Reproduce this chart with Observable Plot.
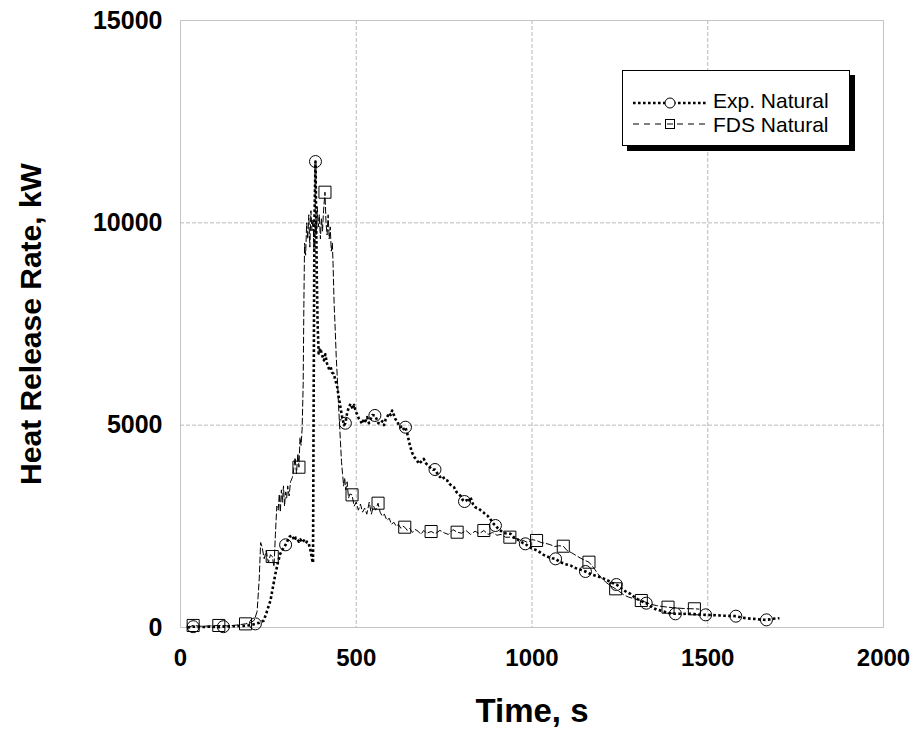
<!DOCTYPE html>
<html>
<head>
<meta charset="utf-8">
<script src="https://cdn.jsdelivr.net/npm/d3@7"></script>
<script src="https://cdn.jsdelivr.net/npm/@observablehq/plot@0.6"></script>
<style>
  html, body { margin: 0; padding: 0; background: #fff; }
  #wrap { position: relative; width: 917px; height: 734px; font-family: "Liberation Sans", Arial, sans-serif; }
  #legend { position: absolute; left: 622px; top: 70px; width: 228px; height: 76px; box-sizing: border-box;
            border: 1px solid #000; background: #fff; box-shadow: 5px 5px 0 #000; }
</style>
</head>
<body>
<div id="wrap"></div>
<script>
// ---- Data ----
const xTicks = [0, 500, 1000, 1500, 2000];
const yTicks = [0, 5000, 10000, 15000];
const seriesNames = ["Exp. Natural", "FDS Natural"];

// Exp. Natural: [time s, HRR kW]
const expNatural = [
[20,0],[36,20],[60,10],[85,20],[110,10],[122,20],[150,30],[180,40],[200,60],[213,90],[225,120],[237,173],[246,400],[256,667],[263,1000],[270,1326],[277,1600],[284,1828],[292,1950],[299,2043],[305,2150],[311,2250],[318,2273],[324,2150],[328,2220],[332,2190],[337,2120],[341,2180],[346,2100],[351,2150],[356,2080],[360,2120],[365,2070],[370,1900],[375,1655],[377,1600],[379,6000],[381,10000],[384,11515],[386,10000],[388,8500],[390,7500],[393,6770],[398,6900],[403,6720],[408,6600],[412,6750],[417,6515],[422,6400],[427,6450],[431,6300],[436,6270],[441,6100],[446,5938],[450,5700],[455,5443],[460,5200],[465,5000],[469,5048],[474,5300],[479,5450],[484,5527],[490,5400],[494,5500],[498,5362],[503,5250],[508,5150],[512,5100],[517,5033],[522,5150],[526,5100],[531,5200],[536,5050],[541,5150],[546,5250],[553,5240],[558,5150],[563,5050],[569,5033],[574,5100],[579,5000],[584,5150],[588,5197],[593,5300],[598,5250],[602,5362],[607,5250],[611,5150],[616,5115],[621,5000],[626,4950],[631,4980],[635,4900],[640,4950],[645,4800],[650,4600],[654,4455],[660,4300],[666,4200],[672,4150],[678,4045],[685,4100],[692,4168],[699,4050],[705,4000],[711,3950],[718,3900],[724,3904],[731,3800],[738,3720],[745,3750],[752,3650],[759,3632],[765,3550],[772,3500],[778,3467],[785,3350],[791,3300],[797,3250],[803,3150],[808,3113],[815,3150],[820,3100],[825,3220],[832,3050],[838,2980],[843,2950],[849,2933],[855,2890],[861,2850],[867,2800],[873,2767],[880,2700],[887,2600],[892,2550],[896,2520],[903,2450],[910,2400],[917,2350],[924,2330],[932,2320],[939,2315],[946,2250],[953,2200],[960,2170],[967,2130],[974,2090],[981,2068],[990,2000],[998,1960],[1007,1930],[1015,1903],[1024,1850],[1032,1800],[1041,1760],[1050,1730],[1058,1710],[1067,1697],[1076,1640],[1085,1600],[1093,1570],[1102,1550],[1110,1532],[1120,1480],[1130,1450],[1140,1420],[1152,1384],[1162,1340],[1173,1300],[1184,1270],[1195,1243],[1206,1200],[1218,1150],[1229,1100],[1240,1062],[1250,1000],[1260,930],[1270,870],[1280,832],[1290,760],[1300,700],[1312,650],[1325,601],[1335,540],[1345,480],[1355,440],[1366,420],[1377,390],[1388,360],[1398,345],[1408,338],[1420,340],[1430,335],[1440,340],[1451,338],[1462,330],[1473,320],[1484,315],[1494,313],[1505,310],[1515,305],[1525,300],[1536,297],[1547,292],[1558,288],[1569,284],[1580,280],[1590,260],[1600,240],[1610,230],[1620,220],[1631,214],[1641,205],[1650,195],[1660,190],[1667,189],[1676,200],[1686,215],[1695,225],[1704,230]
];
const expMarkerTimes = [36,122,213,299,384,469,553,640,724,808,896,981,1067,1152,1240,1325,1408,1494,1580,1667];

// FDS Natural: [time s, HRR kW]
const fdsNatural = [
[20,0],[36,50],[60,30],[85,40],[109,50],[135,40],[160,60],[185,90],[200,120],[210,180],[218,400],[224,1200],[228,2100],[232,2000],[238,1700],[244,1900],[250,1600],[256,1800],[261,1754],[266,1500],[270,2300],[274,3000],[278,2900],[281,3300],[284,2850],[287,3400],[290,3100],[293,3500],[296,3000],[299,3350],[302,3200],[305,3500],[309,3250],[313,3600],[318,3700],[322,3900],[326,4200],[330,3800],[334,4300],[337,3961],[340,4700],[343,4500],[346,4900],[349,6000],[351,8000],[353,9500],[356,9200],[359,10000],[362,9600],[365,10200],[368,9400],[371,10300],[374,9800],[377,10100],[380,9300],[383,10000],[386,9700],[389,10400],[392,9900],[395,10200],[398,9600],[401,10100],[404,9800],[407,10300],[411,10757],[414,10000],[417,9700],[420,10200],[423,9600],[426,9900],[429,9300],[432,9500],[434,9000],[437,8000],[440,7400],[443,6700],[446,6200],[449,5600],[452,5100],[455,4600],[458,4100],[461,3800],[464,3500],[467,3700],[470,3400],[474,3600],[478,3200],[482,3300],[488,3278],[494,3000],[500,3100],[506,2900],[512,3050],[518,2850],[524,2950],[530,2800],[537,3100],[543,2800],[549,3000],[555,2900],[562,3072],[568,2850],[574,2750],[580,2800],[587,2650],[594,2700],[600,2550],[607,2600],[614,2500],[620,2550],[627,2450],[633,2500],[638,2479],[645,2400],[652,2450],[660,2350],[668,2420],[676,2380],[684,2300],[692,2400],[700,2330],[713,2372],[725,2320],[738,2400],[750,2340],[762,2300],[775,2420],[787,2355],[800,2330],[812,2400],[825,2300],[838,2380],[850,2320],[863,2397],[875,2300],[888,2350],[900,2280],[912,2300],[925,2230],[937,2232],[950,2200],[963,2180],[975,2150],[988,2100],[1000,2170],[1013,2150],[1026,2100],[1038,2080],[1051,2050],[1064,2000],[1076,2020],[1089,2009],[1100,1900],[1112,1850],[1125,1780],[1137,1720],[1150,1660],[1162,1614],[1175,1480],[1188,1320],[1200,1200],[1213,1100],[1225,1020],[1238,956],[1250,880],[1262,800],[1275,750],[1287,720],[1300,690],[1311,667],[1325,620],[1340,570],[1355,540],[1370,520],[1387,502],[1400,490],[1415,480],[1430,470],[1445,465],[1462,462],[1475,455]
];
const fdsMarkerTimes = [36,109,185,261,337,411,488,562,638,713,787,863,937,1013,1089,1162,1238,1311,1387,1462];

// ---- Chart ----
const font = '"Liberation Sans", Arial, sans-serif';
const chart = Plot.plot({
  width: 917,
  height: 734,
  marginLeft: 180,
  marginRight: 34,
  marginTop: 20,
  marginBottom: 107,
  style: { fontFamily: font, background: "#fff", overflow: "visible" },
  x: { domain: [0, 2000] },
  y: { domain: [0, 15000] },
  marks: [
    Plot.gridX(xTicks.slice(1, -1), { stroke: "#b8b8b8", strokeOpacity: 1, strokeDasharray: "4,2" }),
    Plot.gridY(yTicks.slice(1, -1), { stroke: "#b8b8b8", strokeOpacity: 1, strokeDasharray: "4,2" }),
    Plot.frame({ stroke: "#c4c4c4" }),
    Plot.axisX(xTicks, { tickSize: 0, tickPadding: 21, tickFormat: d => String(d), fontSize: 24, fontWeight: "bold", label: null, fill: "#000" }),
    Plot.axisY(yTicks, { tickSize: 0, tickPadding: 18, tickFormat: d => String(d), fontSize: 25, fontWeight: "bold", label: null, fill: "#000" }),
    Plot.line(fdsNatural, { x: d => d[0], y: d => d[1], stroke: "#000", strokeWidth: 1, strokeDasharray: "6,3" }),
    Plot.line(expNatural, { x: d => d[0], y: d => d[1], stroke: "#000", strokeWidth: 2.6, strokeDasharray: "2.6,2.4", strokeLinecap: "butt" }),
    Plot.dot(fdsNatural, { filter: d => fdsMarkerTimes.includes(d[0]), x: d => d[0], y: d => d[1], symbol: "square", r: 6.8, stroke: "#000", strokeWidth: 1, fill: "none" }),
    Plot.dot(expNatural, { filter: d => expMarkerTimes.includes(d[0]), x: d => d[0], y: d => d[1], symbol: "circle", r: 6, stroke: "#000", strokeWidth: 1, fill: "none" }),
    Plot.text(["Time, s"], { frameAnchor: "bottom", dy: 84, text: d => d, fontSize: 33, fontWeight: "bold", fill: "#000", lineAnchor: "middle", textAnchor: "middle" }),
    Plot.text(["Heat Release Rate, kW"], { frameAnchor: "left", dx: -149, rotate: -90, text: d => d, fontSize: 30, fontWeight: "bold", fill: "#000", lineAnchor: "middle", textAnchor: "middle" })
  ]
});
const wrap = document.getElementById("wrap");
wrap.appendChild(chart);

// ---- Legend ----
const legend = document.createElement("div");
legend.id = "legend";
legend.innerHTML = `
<svg width="226" height="74" style="display:block">
  <line x1="10" y1="32" x2="84" y2="32" stroke="#000" stroke-width="2.6" stroke-dasharray="2.6,2.4"/>
  <circle cx="47" cy="32" r="5" fill="#fff" stroke="#000" stroke-width="1"/>
  <line x1="10" y1="53" x2="84" y2="53" stroke="#000" stroke-width="1" stroke-dasharray="6,5"/>
  <rect x="42.5" y="48.5" width="9" height="9" fill="#fff" stroke="#000" stroke-width="1"/>
  <line x1="44" y1="53" x2="50" y2="53" stroke="#000" stroke-width="1"/>
  <text x="90" y="37" font-size="21" font-family='${font}' fill="#000">${seriesNames[0]}</text>
  <text x="90" y="61" font-size="21" font-family='${font}' fill="#000">${seriesNames[1]}</text>
</svg>`;
wrap.appendChild(legend);
</script>
</body>
</html>
